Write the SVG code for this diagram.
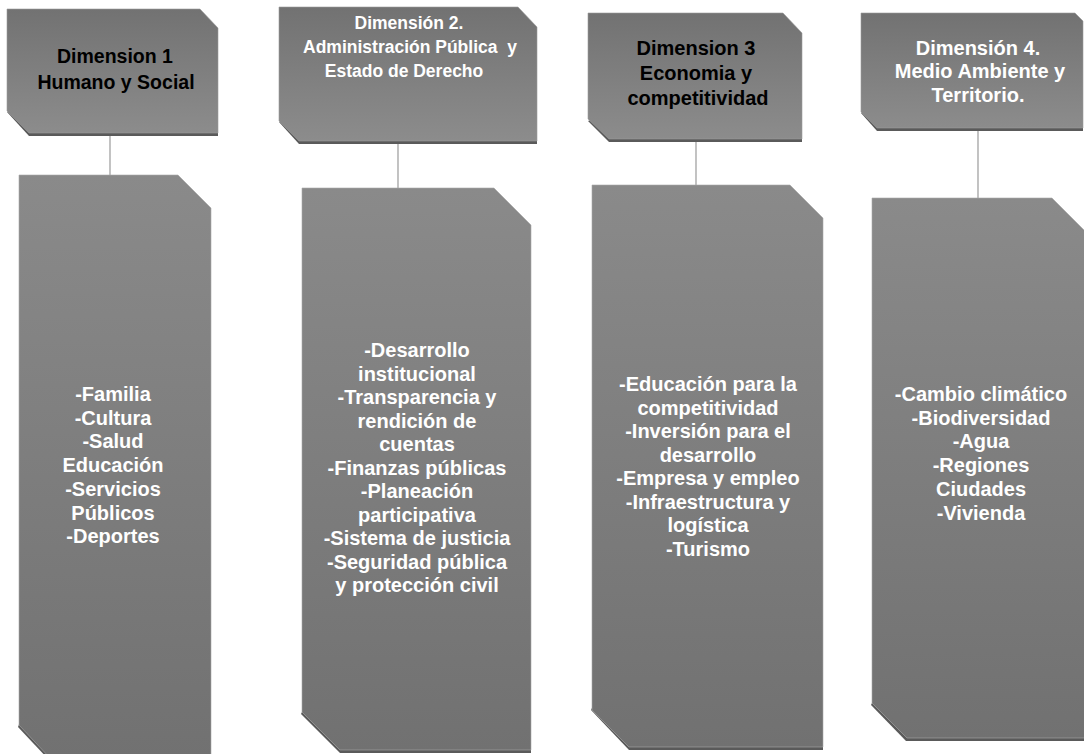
<svg xmlns="http://www.w3.org/2000/svg" width="1084" height="754" viewBox="0 0 1084 754">
<defs>
<linearGradient id="gHead" x1="0" y1="0" x2="0" y2="1">
<stop offset="0" stop-color="#727272"/>
<stop offset="1" stop-color="#8c8c8c"/>
</linearGradient>
<linearGradient id="gBody" x1="0" y1="0" x2="0" y2="1">
<stop offset="0" stop-color="#8a8a8a"/>
<stop offset="1" stop-color="#717171"/>
</linearGradient>
</defs>
<style>
.shadow{fill:#5a5a5a}
.head{fill:url(#gHead);stroke:#9a9a9a;stroke-width:0.6}
.body{fill:url(#gBody);stroke:#a8a8a8;stroke-width:0.6}
.conn{stroke:#9a9a9a;stroke-width:1.2;fill:none}
text{font-family:"Liberation Sans",Arial,sans-serif;font-weight:bold;text-anchor:middle}
.dark{fill:#000000}
.light{fill:#ffffff}
.t20{font-size:20px}
.t19{font-size:19.5px}
.t17{font-size:17.5px}
</style>
<rect width="1084" height="754" fill="#ffffff"/>
<g id="connectors">
<line class="conn" x1="110" y1="133" x2="110" y2="175"/>
<line class="conn" x1="398" y1="141" x2="398" y2="188"/>
<line class="conn" x1="696" y1="139" x2="696" y2="185"/>
<line class="conn" x1="978" y1="128" x2="978" y2="198"/>
</g>
<g id="head1">
<polygon class="shadow" points="7,112 7,112 29,136 218,136 218,29 218,29"/>
<polygon class="head" points="7,9 200,9 218,28 218,133 29,133 7,111"/>
<text class="dark t19" x="115" y="63">Dimension 1</text>
<text class="dark t19" x="116" y="89">Humano y Social</text>
</g>
<g id="head2">
<polygon class="shadow" points="279,122 299,144 537,144 537,30"/>
<polygon class="head" points="279,7 518,7 537,27 537,141 299,141 279,121"/>
<text class="light t17" x="409" y="29">Dimensión 2.</text>
<text class="light t17" x="410" y="53" xml:space="preserve">Administración Pública  y</text>
<text class="light t17" x="404" y="77">Estado de Derecho</text>
</g>
<g id="head3">
<polygon class="shadow" points="588,121 609,142 802,142 802,35"/>
<polygon class="head" points="588,13 783,13 802,33 802,139 609,139 588,119"/>
<text class="dark t20" x="696" y="55">Dimension 3</text>
<text class="dark t20" x="696" y="80">Economia y</text>
<text class="dark t20" x="698" y="105">competitividad</text>
</g>
<g id="head4">
<polygon class="shadow" points="861,113 877,131 1083,131 1083,23"/>
<polygon class="head" points="861,13 1075,13 1083,21 1083,128 877,128 861,112"/>
<text class="light t20" x="978" y="55">Dimensión 4.</text>
<text class="light t20" x="980" y="78">Medio Ambiente y</text>
<text class="light t20" x="978" y="102">Territorio.</text>
</g>
<g id="body1">
<polygon class="shadow" points="18,727 49,760 211,760 211,210"/>
<polygon class="body" points="19,175 178,175 211,208 211,758 50,758 19,725"/>
<text class="light t20" x="113" y="401">-Familia</text>
<text class="light t20" x="113" y="425">-Cultura</text>
<text class="light t20" x="113" y="448">-Salud</text>
<text class="light t20" x="113" y="472">Educación</text>
<text class="light t20" x="113" y="496">-Servicios</text>
<text class="light t20" x="113" y="520">Públicos</text>
<text class="light t20" x="113" y="543">-Deportes</text>
</g>
<g id="body2">
<polygon class="shadow" points="301,714 340,753 531,753 531,228"/>
<polygon class="body" points="302,188 494,188 531,225 531,750 340,750 302,712"/>
<text class="light t20" x="417" y="357">-Desarrollo</text>
<text class="light t20" x="417" y="380.5">institucional</text>
<text class="light t20" x="417" y="404">-Transparencia y</text>
<text class="light t20" x="417" y="427.5">rendición de</text>
<text class="light t20" x="417" y="451">cuentas</text>
<text class="light t20" x="417" y="474.5">-Finanzas públicas</text>
<text class="light t20" x="417" y="498">-Planeación</text>
<text class="light t20" x="417" y="521.5">participativa</text>
<text class="light t20" x="417" y="545">-Sistema de justicia</text>
<text class="light t20" x="417" y="568.5">-Seguridad pública</text>
<text class="light t20" x="417" y="592">y protección civil</text>
</g>
<g id="body3">
<polygon class="shadow" points="591,710 629,750 823,750 823,221"/>
<polygon class="body" points="592,185 790,185 823,218 823,747 629,747 592,710"/>
<text class="light t20" x="708" y="391">-Educación para la</text>
<text class="light t20" x="708" y="414.5">competitividad</text>
<text class="light t20" x="708" y="438">-Inversión para el</text>
<text class="light t20" x="708" y="461.5">desarrollo</text>
<text class="light t20" x="708" y="485">-Empresa y empleo</text>
<text class="light t20" x="708" y="508.5">-Infraestructura y</text>
<text class="light t20" x="708" y="532">logística</text>
<text class="light t20" x="708" y="555.5">-Turismo</text>
</g>
<g id="body4">
<polygon class="shadow" points="871,705 906,741 1090,741 1090,240"/>
<polygon class="body" points="872,198 1052,198 1090,236 1090,738 907,738 872,703"/>
<text class="light t20" x="981" y="401">-Cambio climático</text>
<text class="light t20" x="981" y="425">-Biodiversidad</text>
<text class="light t20" x="981" y="448">-Agua</text>
<text class="light t20" x="981" y="472">-Regiones</text>
<text class="light t20" x="981" y="496">Ciudades</text>
<text class="light t20" x="981" y="520">-Vivienda</text>
</g>
</svg>
